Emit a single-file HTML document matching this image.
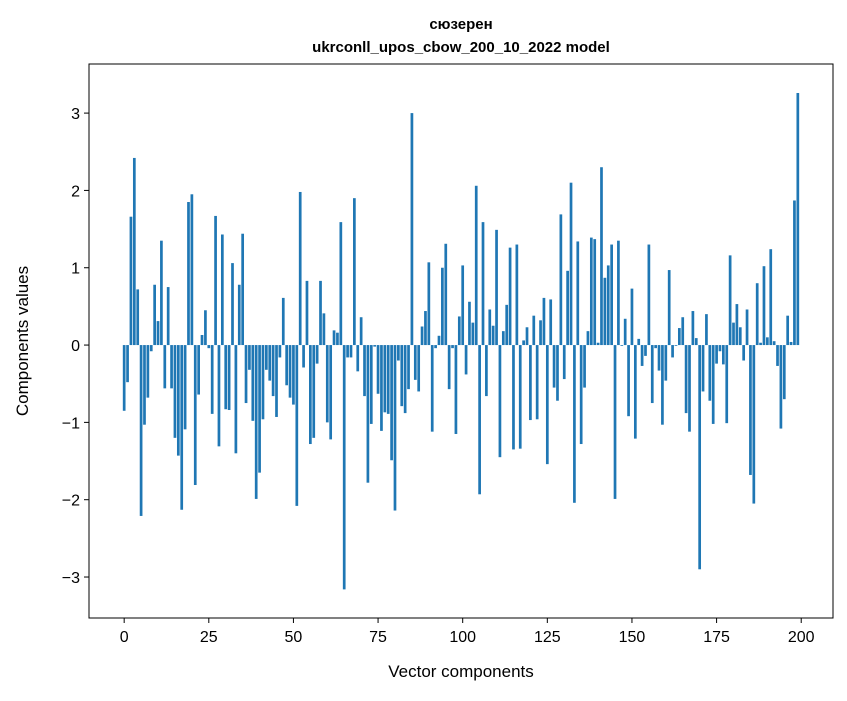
<!DOCTYPE html>
<html><head><meta charset="utf-8"><style>
body{margin:0;background:#fff;}
svg text{font-family:"Liberation Sans","DejaVu Sans",sans-serif;fill:#000;}
</style></head><body>
<svg id="chart" width="847" height="696" viewBox="0 0 847 696" xmlns="http://www.w3.org/2000/svg">
<rect width="847" height="696" fill="#fff"/>
<text x="461" y="29" text-anchor="middle" font-size="15" font-weight="bold">сюзерен</text>
<text x="461" y="52" text-anchor="middle" font-size="15" font-weight="bold">ukrconll_upos_cbow_200_10_2022 model</text>
<g id="bars"></g>
<g id="axes"></g>
<text x="461" y="677" text-anchor="middle" font-size="17">Vector components</text>
<text transform="translate(28,341) rotate(-90)" text-anchor="middle" font-size="17">Components values</text>
</svg>
<script>
const values = [-0.85,-0.48,1.66,2.42,0.72,-2.21,-1.03,-0.68,-0.08,0.78,0.31,1.35,-0.56,0.75,-0.56,-1.2,-1.43,-2.13,-1.09,1.85,1.95,-1.81,-0.64,0.13,0.45,
-0.04,-0.89,1.67,-1.31,1.43,-0.83,-0.84,1.06,-1.4,0.78,1.44,-0.75,-0.32,-0.98,-1.99,-1.65,-0.96,-0.32,-0.46,-0.66,-0.93,-0.16,0.61,-0.52,-0.68,
-0.77,-2.08,1.98,-0.29,0.83,-1.28,-1.2,-0.24,0.83,0.41,-1.0,-1.22,0.19,0.16,1.59,-3.16,-0.16,-0.16,1.9,-0.34,0.36,-0.66,-1.78,-1.02,-0.02,
-0.63,-1.11,-0.87,-0.89,-1.49,-2.14,-0.2,-0.79,-0.88,-0.57,3.0,-0.45,-0.6,0.24,0.44,1.07,-1.12,-0.04,0.12,1.0,1.31,-0.57,-0.04,-1.15,0.37,
1.03,-0.38,0.56,0.29,2.06,-1.93,1.59,-0.66,0.46,0.25,1.49,-1.45,0.18,0.52,1.26,-1.35,1.3,-1.34,0.06,0.23,-0.97,0.38,-0.96,0.32,0.61,
-1.54,0.59,-0.55,-0.72,1.69,-0.44,0.96,2.1,-2.04,1.34,-1.28,-0.55,0.18,1.39,1.37,0.03,2.3,0.87,1.03,1.3,-1.99,1.35,-0.01,0.34,-0.92,
0.73,-1.21,0.08,-0.27,-0.14,1.3,-0.75,-0.04,-0.33,-1.03,-0.46,0.97,-0.16,-0.01,0.22,0.36,-0.88,-1.12,0.44,0.09,-2.9,-0.6,0.4,-0.72,-1.02,
-0.24,-0.08,-0.25,-1.01,1.16,0.29,0.53,0.23,-0.2,0.46,-1.68,-2.05,0.8,0.03,1.02,0.1,1.24,0.05,-0.27,-1.08,-0.7,0.38,0.04,1.87,3.26];
const xTicks = [0,25,50,75,100,125,150,175,200];
const yTicks = [-3,-2,-1,0,1,2,3];
const yTickLabels = ["\u22123","\u22122","\u22121","0","1","2","3"];

const L=89,R=833,T=64,B=618;
const xMin=-10.39,xMax=209.39,yMin=-3.53,yMax=3.635;
function xs(v){return L+(v-xMin)/(xMax-xMin)*(R-L);}
function ys(v){return B-(v-yMin)/(yMax-yMin)*(B-T);}
const NS="http://www.w3.org/2000/svg";
const bars=document.getElementById('bars');
values.forEach((v,i)=>{
  const r=document.createElementNS(NS,'rect');
  const x0=xs(i-0.4),x1=xs(i+0.4);
  const y0=ys(Math.max(v,0)),y1=ys(Math.min(v,0));
  r.setAttribute('x',x0);r.setAttribute('width',x1-x0);
  r.setAttribute('y',y0);r.setAttribute('height',Math.max(y1-y0,0.3));
  r.setAttribute('fill','#1f77b4');
  
  
  bars.appendChild(r);
});
const axes=document.getElementById('axes');
const frame=document.createElementNS(NS,'rect');
frame.setAttribute('x',L);frame.setAttribute('y',T);frame.setAttribute('width',R-L);frame.setAttribute('height',B-T);
frame.setAttribute('fill','none');frame.setAttribute('stroke','#000');frame.setAttribute('stroke-width','1');


axes.appendChild(frame);
xTicks.forEach(t=>{
  const x=xs(t);
  const l=document.createElementNS(NS,'line');
  l.setAttribute('x1',x);l.setAttribute('x2',x);l.setAttribute('y1',B);l.setAttribute('y2',B+5);l.setAttribute('stroke','#000');
  
  
  axes.appendChild(l);
  const tx=document.createElementNS(NS,'text');
  tx.setAttribute('x',x);tx.setAttribute('y',B+24);tx.setAttribute('text-anchor','middle');tx.setAttribute('font-size','16');
  tx.textContent=t;
  
  
  axes.appendChild(tx);
});
yTicks.forEach((t,k)=>{
  const y=ys(t);
  const l=document.createElementNS(NS,'line');
  l.setAttribute('x1',L-5);l.setAttribute('x2',L);l.setAttribute('y1',y);l.setAttribute('y2',y);l.setAttribute('stroke','#000');
  
  
  axes.appendChild(l);
  const tx=document.createElementNS(NS,'text');
  tx.setAttribute('x',L-9);tx.setAttribute('y',y+6);tx.setAttribute('text-anchor','end');tx.setAttribute('font-size','16');
  tx.textContent=yTickLabels[k];
  
  
  axes.appendChild(tx);
});
</script>
</body></html>
